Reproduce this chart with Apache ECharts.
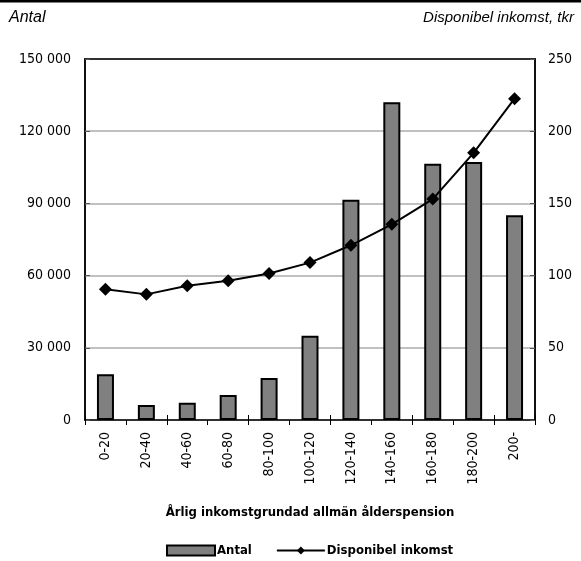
<!DOCTYPE html>
<html><head><meta charset="utf-8">
<script src="https://cdn.jsdelivr.net/npm/echarts@6/dist/echarts.min.js"></script>
<style>html,body{margin:0;padding:0;background:#fff}#c{width:581px;height:561px}</style>
</head><body><div id="c"></div>
<script>
var categories = ['0-20','20-40','40-60','60-80','80-100','100-120','120-140','140-160','160-180','180-200','200-'];
var antal = [19000, 6200, 7200, 10400, 17400, 35000, 91500, 132000, 106500, 107200, 85100];
var disponibel = [90.5, 87, 93, 96.5, 101.5, 109, 121, 135.5, 153, 185, 222.5];
var leftTicks = [0, 30000, 60000, 90000, 120000, 150000];
var rightTicks = [0, 50, 100, 150, 200, 250];

var F = "'DejaVu Sans'";
var ST = 'condensed';
var chart = echarts.init(document.getElementById('c'));
function fmt(v){ return String(v).replace(/\B(?=(\d{3})+(?!\d))/g, ' '); }
chart.setOption({
  animation:false,
  textStyle:{fontFamily:F,fontStyle:ST},
  grid:{left:85,right:46,top:59,bottom:141,show:true,borderColor:'#000',borderWidth:1.5},
  graphic:[
    {type:'rect',shape:{x:0,y:0,width:581,height:2.5},style:{fill:'#000'}},
    {type:'text',left:9,top:10,style:{text:'Antal',font:"italic 16px 'Liberation Sans',Arial,sans-serif",fill:'#000'}},
    {type:'text',right:7,top:10,style:{text:'Disponibel inkomst, tkr',font:"italic 15px 'Liberation Sans',Arial,sans-serif",fill:'#000'}}
  ],
  legend:{
    top:539,left:161,itemWidth:48,itemHeight:10,itemGap:24,
    textStyle:{fontFamily:F,fontStyle:ST,fontWeight:'bold',fontSize:13,color:'#000',padding:[0,0,0,-3]},
    data:[{name:'Antal',icon:'rect'},{name:'Disponibel inkomst'}]
  },
  xAxis:[{
    type:'category',data:categories,position:'bottom',
    axisLine:{lineStyle:{color:'#000',width:1.5}},
    axisTick:{show:true,length:5,lineStyle:{color:'#000'}},
    axisLabel:{rotate:90,fontSize:14,color:'#000',fontFamily:F,fontStyle:ST,margin:12},
    name:'Årlig inkomstgrundad allmän ålderspension',nameLocation:'middle',nameGap:86,
    nameTextStyle:{fontFamily:F,fontStyle:ST,fontWeight:'bold',fontSize:13,color:'#000'}
  },{
    type:'category',data:categories,position:'bottom',
    axisLine:{show:false},axisTick:{show:true,inside:true,length:5,lineStyle:{color:'#000'}},
    axisLabel:{show:false}
  },{
    type:'category',data:categories,position:'top',
    axisLine:{show:true,lineStyle:{color:'#000',width:1.5}},axisTick:{show:false},
    axisLabel:{show:false}
  }],
  yAxis:[{
    type:'value',min:0,max:150000,interval:30000,position:'left',
    axisLine:{show:true,lineStyle:{color:'#000',width:1.5}},
    axisTick:{show:true,inside:true,length:5,lineStyle:{color:'#555'}},
    splitLine:{show:true,lineStyle:{color:'#c0c0c0',width:2}},
    axisLabel:{fontSize:14,color:'#000',fontFamily:F,fontStyle:ST,margin:14,formatter:function(v){return leftTicks.indexOf(v)>=0?fmt(v):'';}}
  },{
    type:'value',min:0,max:250,interval:50,position:'right',
    axisLine:{show:true,lineStyle:{color:'#000',width:1.5}},
    axisTick:{show:true,inside:true,length:5,lineStyle:{color:'#555'}},
    splitLine:{show:false},
    axisLabel:{fontSize:14,color:'#000',fontFamily:F,fontStyle:ST,margin:13,formatter:function(v){return rightTicks.indexOf(v)>=0?String(v):'';}}
  }],
  series:[{
    name:'Antal',type:'bar',yAxisIndex:0,xAxisIndex:0,data:antal,barWidth:17,
    itemStyle:{color:'#808080',borderColor:'#000',borderWidth:2}
  },{
    name:'Disponibel inkomst',type:'line',yAxisIndex:1,xAxisIndex:0,data:disponibel,
    symbol:'diamond',symbolSize:13,z:5,
    lineStyle:{color:'#000',width:2},itemStyle:{color:'#000'}
  }]
});
</script></body></html>
